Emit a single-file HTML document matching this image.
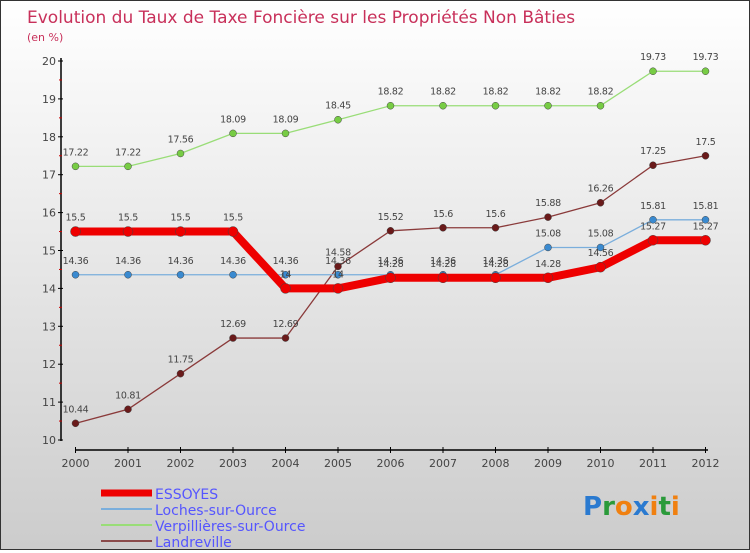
<!DOCTYPE html>
<html><head><meta charset="utf-8"><style>
body{margin:0}
#c{width:748px;height:548px;border:1px solid #333;background:linear-gradient(#fff,#ccc);position:relative;font-family:"DejaVu Sans","Liberation Sans",sans-serif}
svg text{font-family:"DejaVu Sans","Liberation Sans",sans-serif}
</style></head><body>
<div id="c">
<svg width="748" height="548" id="s">
<text x="26" y="22" font-size="17" fill="#c8305a">Evolution du Taux de Taxe Foncière sur les Propriétés Non Bâties</text>
<text x="26" y="40" font-size="11" fill="#c8305a">(en %)</text>
</svg></div>
<script>
const years=[2000,2001,2002,2003,2004,2005,2006,2007,2008,2009,2010,2011,2012];
const yTicks=[10,11,12,13,14,15,16,17,18,19,20];
const essoyes=[15.5,15.5,15.5,15.5,14,14,14.28,14.28,14.28,14.28,14.56,15.27,15.27];
const loches=[14.36,14.36,14.36,14.36,14.36,14.36,14.36,14.36,14.36,15.08,15.08,15.81,15.81];
const verp=[17.22,17.22,17.56,18.09,18.09,18.45,18.82,18.82,18.82,18.82,18.82,19.73,19.73];
const landre=[10.44,10.81,11.75,12.69,12.69,14.58,15.52,15.6,15.6,15.88,16.26,17.25,17.5];
const s=document.getElementById('s');const NS='http://www.w3.org/2000/svg';
const X=i=>74.5+i*52.5, Y=v=>439-(v-10)*37.9;
function mk(t,a,p){const e=document.createElementNS(NS,t);for(const k in a)e.setAttribute(k,a[k]);(p||s).appendChild(e);return e;}
let e;
e=mk('line',{x1:60,y1:57,x2:60,y2:440,stroke:'#000','stroke-width':1.5});


e=mk('line',{x1:74,y1:449,x2:707,y2:449,stroke:'#000','stroke-width':1.5});


yTicks.forEach(v=>{mk('line',{x1:57,x2:62,y1:Y(v),y2:Y(v),stroke:'#000'});
if(v<20)mk('line',{x1:58,x2:61,y1:Y(v+0.5),y2:Y(v+0.5),stroke:'#c00'});
e=mk('text',{x:55,y:Y(v)+4,'text-anchor':'end','font-size':11,fill:'#444'});e.textContent=v;

});
years.forEach((y,i)=>{mk('line',{x1:X(i),x2:X(i),y1:446,y2:452,stroke:'#000'});
e=mk('text',{x:X(i),y:466,'text-anchor':'middle','font-size':11,fill:'#444'});e.textContent=y;

});
function series(d,col,w,dot,name,dotr){
const g=mk('g',{});
mk('polyline',{points:d.map((v,i)=>X(i)+','+Y(v)).join(' '),fill:'none',stroke:col,'stroke-width':w,'stroke-linejoin':'round'},g);
d.forEach((v,i)=>{const c=mk('circle',{cx:X(i),cy:Y(v),r:dotr,fill:dot,stroke:'#444','stroke-width':0.5},g);


const t=mk('text',{x:X(i),y:Y(v)-11,'text-anchor':'middle','font-size':9.5,fill:'#444','letter-spacing':'-0.3'},g);t.textContent=v;});}
series(landre,'#8a3a3a',1.3,'#6a1a1a','series-landreville',3.5);
series(verp,'#99dd77',1.3,'#77cc44','series-verpillieres',3.5);
series(loches,'#7aaedc',1.3,'#3a8ad0','series-loches',3.5);
series(essoyes,'#ee0000',8,'#ee0000','series-essoyes',5);
const leg=[['ESSOYES','#ee0000',7],['Loches-sur-Ource','#7aaedc',2],['Verpillières-sur-Ource','#99dd77',2],['Landreville','#8a4a4a',2]];
leg.forEach((l,i)=>{const y=492+i*16;
const g=mk('g',{});
mk('line',{x1:100,x2:151,y1:y,y2:y,stroke:l[1],'stroke-width':l[2]},g);
const t=mk('text',{x:154,y:y+6,'font-size':14,fill:'#5555ff'},g);t.textContent=l[0];});
const lg=mk('text',{x:582,y:514,'font-size':26,'font-weight':'bold'});


[['P','#2a7ad0'],['r','#2a9a3a'],['o','#f08010'],['x','#2a7ad0'],['i','#f08010'],['t','#2a9a3a'],['i','#f08010']].forEach(c=>{const sp=mk('tspan',{fill:c[1]},lg);sp.textContent=c[0];});
</script>
</body></html>
